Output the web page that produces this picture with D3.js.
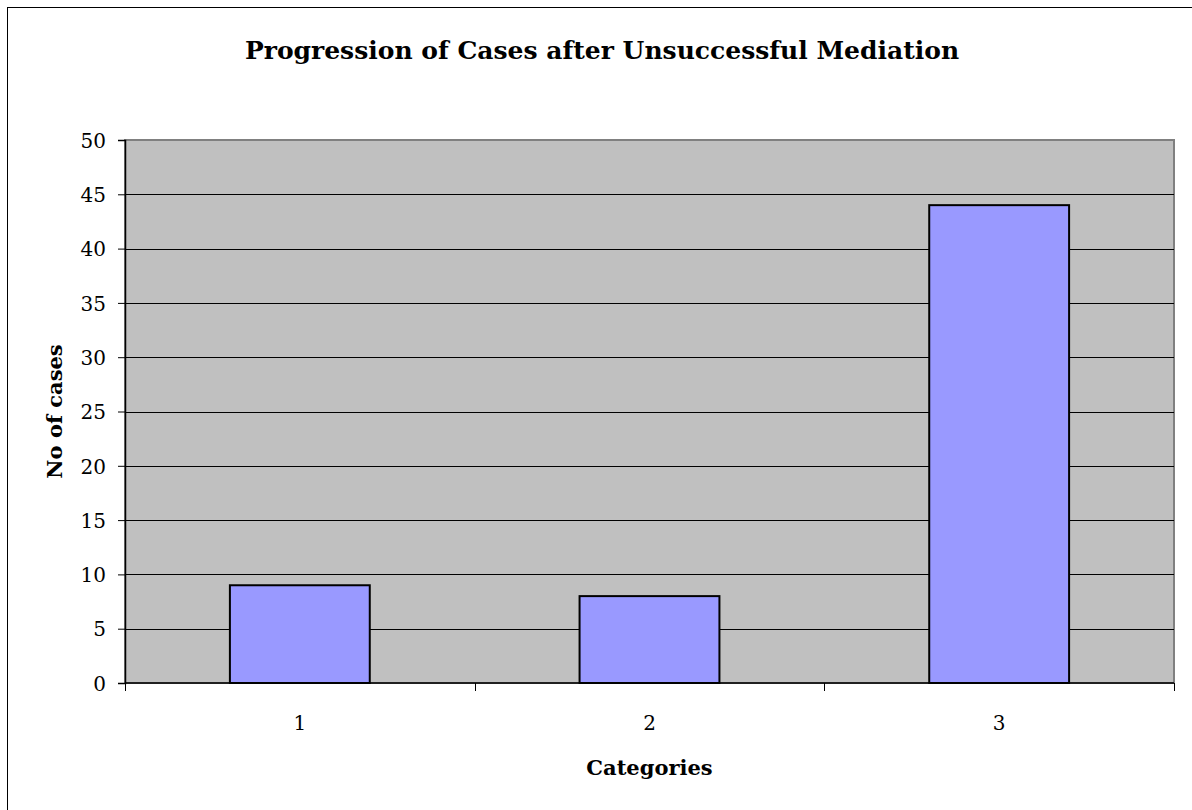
<!DOCTYPE html>
<html>
<head>
<meta charset="utf-8">
<script src="https://cdn.jsdelivr.net/npm/d3@7"></script>
<style>
  body { margin: 0; background: #fff; }
  svg text { font-family: "DejaVu Serif", serif; fill: #000; }
</style>
</head>
<body>
<div id="chart"></div>
<script>
// data
var categories = ["1", "2", "3"];
var cases = [9, 8, 44];
var yTicks = [0, 5, 10, 15, 20, 25, 30, 35, 40, 45, 50];
var titleText = "Progression of Cases after Unsuccessful Mediation";
var xTitle = "Categories";
var yTitle = "No of cases";

var W = 1192, H = 810;
var margin = {top: 140, right: 18, bottom: 127, left: 125};
var width = W - margin.left - margin.right;   // plot area
var height = H - margin.top - margin.bottom;

var svg = d3.select("#chart").append("svg")
    .attr("width", W)
    .attr("height", H);

// outer chart border
svg.append("rect")
    .attr("x", 7.5).attr("y", 7.5)
    .attr("width", W).attr("height", H)
    .attr("fill", "#fff")
    .attr("stroke", "#000")
    .attr("stroke-width", 1);

var g = svg.append("g")
    .attr("transform", "translate(" + margin.left + "," + margin.top + ")");

var x = d3.scaleBand()
    .domain(categories)
    .range([0, width])
    .paddingInner(0.6)
    .paddingOuter(0.3);
var xBand = d3.scaleBand().domain(categories).range([0, width]); // for ticks between categories

var y = d3.scaleLinear()
    .domain([0, 50])
    .range([height, 0]);

// plot background
g.append("rect")
    .attr("width", width).attr("height", height)
    .attr("fill", "#c0c0c0")
    .attr("stroke", "#808080")
    .attr("stroke-width", 2);

// gridlines
g.append("g").selectAll("line")
    .data(yTicks.filter(function (d) { return d > 0 && d < 50; }))
    .enter().append("line")
    .attr("x1", 0).attr("x2", width)
    .attr("y1", function (d) { return Math.round(y(d)) + 0.5; })
    .attr("y2", function (d) { return Math.round(y(d)) + 0.5; })
    .attr("stroke", "#000")
    .attr("stroke-width", 1);

// bars
g.append("g").selectAll("rect")
    .data(cases)
    .enter().append("rect")
    .attr("x", function (d, i) { return x(categories[i]); })
    .attr("y", function (d) { return y(d); })
    .attr("width", x.bandwidth())
    .attr("height", function (d) { return height - y(d); })
    .attr("fill", "#9999ff")
    .attr("stroke", "#000")
    .attr("stroke-width", 2);

// y axis
var yAxis = g.append("g")
    .call(d3.axisLeft(y).tickValues(yTicks).tickSize(7).tickPadding(12));
yAxis.select(".domain").attr("stroke", "#000").attr("stroke-width", 1.5);
yAxis.selectAll(".tick line").attr("stroke", "#000");
yAxis.selectAll("text")
    .style("font-family", "DejaVu Serif, serif")
    .style("font-size", "20px")
    .attr("dy", "0.36em");

// x axis: ticks sit between the categories
var xAxisG = g.append("g")
    .attr("transform", "translate(0," + height + ")");
xAxisG.append("line")
    .attr("x1", 0).attr("x2", width)
    .attr("y1", 0).attr("y2", 0)
    .attr("stroke", "#000").attr("stroke-width", 1.5);
var bounds = categories.map(function (c) { return xBand(c); }).concat([width]);
xAxisG.selectAll(".xtick")
    .data(bounds)
    .enter().append("line")
    .attr("class", "xtick")
    .attr("x1", function (d) { return Math.round(d) + 0.5; })
    .attr("x2", function (d) { return Math.round(d) + 0.5; })
    .attr("y1", 0).attr("y2", 8)
    .attr("stroke", "#000");
xAxisG.selectAll(".xlabel")
    .data(categories)
    .enter().append("text")
    .attr("class", "xlabel")
    .attr("x", function (d) { return xBand(d) + xBand.bandwidth() / 2; })
    .attr("y", 47)
    .attr("text-anchor", "middle")
    .style("font-size", "20px")
    .text(function (d) { return d; });

// titles
svg.append("text")
    .attr("x", 602).attr("y", 59)
    .attr("text-anchor", "middle")
    .style("font-size", "25px")
    .style("font-weight", "bold")
    .text(titleText);

svg.append("text")
    .attr("x", margin.left + width / 2).attr("y", 775)
    .attr("text-anchor", "middle")
    .style("font-size", "21px")
    .style("font-weight", "bold")
    .text(xTitle);

svg.append("text")
    .attr("transform", "translate(62," + (margin.top + height / 2) + ") rotate(-90)")
    .attr("text-anchor", "middle")
    .style("font-size", "21px")
    .style("font-weight", "bold")
    .text(yTitle);
</script>
</body>
</html>
